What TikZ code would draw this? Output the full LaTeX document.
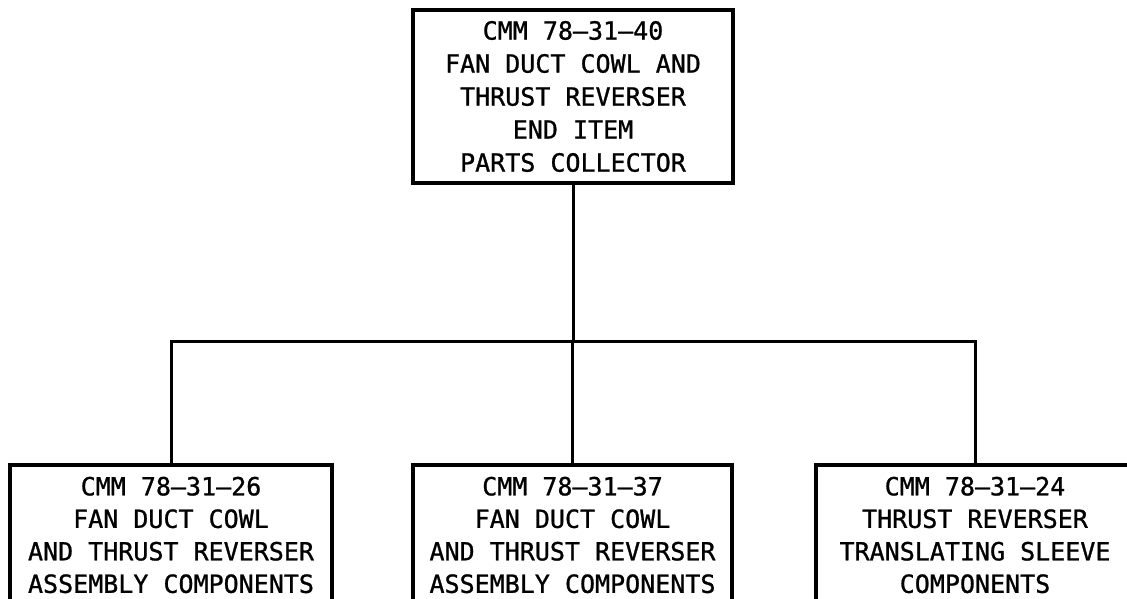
\documentclass[tikz,border=0pt]{standalone}
\usepackage{fontspec}
\setmainfont[FakeBold=1.6,AutoFakeBold=1.6]{DejaVu Sans Mono}
\newfontfamily\cadfont[FakeBold=1.0]{DejaVu Sans Mono}
\begin{document}
\begin{tikzpicture}[x=1pt,y=-1pt,
  cmmbox/.style={draw=black,line width=4pt,rectangle,inner sep=0pt,align=center,
    font=\cadfont\fontsize{25}{32.5}\selectfont},
  link/.style={draw=black,line width=3pt}]
\useasboundingbox (0,0) rectangle (1127,598);
\clip (0,0) rectangle (1127,598);
\fill[white] (0,0) rectangle (1127,598);
\node[cmmbox,minimum width=320pt,minimum height=173pt,font=\cadfont\fontsize{25}{33}\selectfont] (top) at (573,96.5)
  {CMM 78–31–40\\FAN DUCT COWL AND\\THRUST REVERSER\\END ITEM\\PARTS COLLECTOR};
\node[cmmbox,minimum width=322pt,minimum height=140pt] (left) at (171,535)
  {CMM 78–31–26\\FAN DUCT COWL\\AND THRUST REVERSER\\ASSEMBLY COMPONENTS};
\node[cmmbox,minimum width=319pt,minimum height=140pt] (mid) at (572.5,535)
  {CMM 78–31–37\\FAN DUCT COWL\\AND THRUST REVERSER\\ASSEMBLY COMPONENTS};
\node[cmmbox,minimum width=318pt,minimum height=140pt] (right) at (975,535)
  {CMM 78–31–24\\THRUST REVERSER\\TRANSLATING SLEEVE\\COMPONENTS};
\coordinate (bus) at (573,341);
\draw[link] (top.south) -- (bus);
\draw[link] (left.north) |- (bus) -| (right.north);
\draw[link] (mid.north) -- (mid.north |- bus);
\end{tikzpicture}
\end{document}
